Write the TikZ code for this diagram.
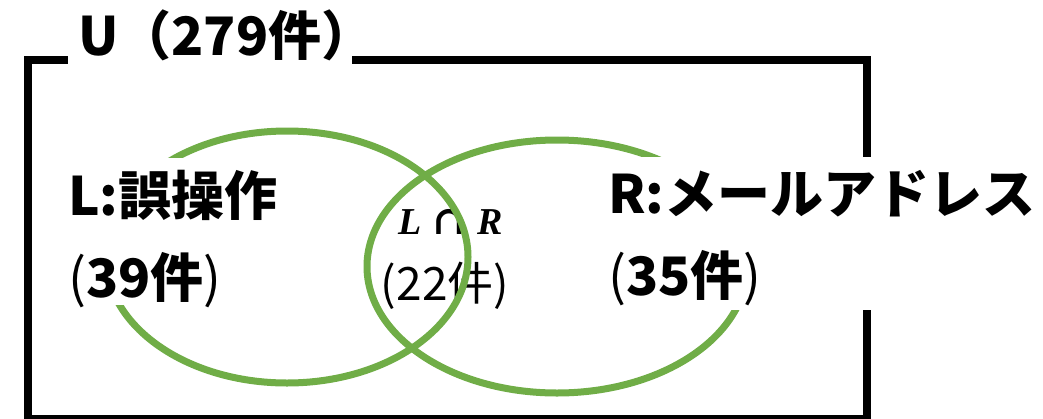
\documentclass[tikz,border=0pt]{standalone}
\usepackage{fontspec}
\setmainfont{Noto Sans CJK JP}
\newfontfamily\tms{Liberation Serif}
\newfontfamily\dvs{DejaVu Serif}
\definecolor{vgreen}{HTML}{70AD47}
\begin{document}
\begin{tikzpicture}[x=1pt,y=-1pt,
  frame/.style={line width=8pt},
  venn/.style={draw=vgreen,line width=7pt},
  cover/.style={fill=white,inner sep=0pt,draw=none},
  big/.style={font=\bfseries\fontsize{53}{64}\selectfont,inner sep=0pt,anchor=base west},
  mid/.style={font=\fontsize{46}{55}\selectfont,inner sep=0pt,anchor=base},
]
\useasboundingbox (0,0) rectangle (1043,418);
\node[mid] (ctr) at (445,300) {(22件)};
\node[inner sep=0pt,anchor=base,font=\fontsize{38}{44}\selectfont] (cap) at (451,234)
  {{\tms\bfseries\itshape L}\hspace{10pt}{\dvs\bfseries\fontsize{40}{44}\selectfont ∩}\hspace{12pt}{\tms\bfseries\itshape R}};
\coordinate (tl) at (27.5,60);
\coordinate (br) at (867,419);
\draw[frame] (tl) rectangle (br);
\draw[venn] (287,257) ellipse [x radius=181,y radius=126];
\draw[venn] (557,266.5) ellipse [x radius=190,y radius=126.5];
\node[cover,minimum width=284pt,minimum height=22pt] (tbox) at (210,60) {};
\node[cover,minimum width=235pt,minimum height=147pt,anchor=north west] (lbox) at (50,158) {};
\node[cover,minimum width=425pt,minimum height=153pt,anchor=north west] (rbox) at (605,157) {};
\node[big] (title) at (78,55) {U（279件）};
\node[big] (l1) at (68,215) {L:誤操作};
\node[big] (l2) at (68,297) {{\mdseries(}39件{\mdseries)}};
\node[big] (r1) at (608,213) {R:メールアドレス};
\node[big] (r2) at (608,295) {{\mdseries(}35件{\mdseries)}};
\end{tikzpicture}
\end{document}
